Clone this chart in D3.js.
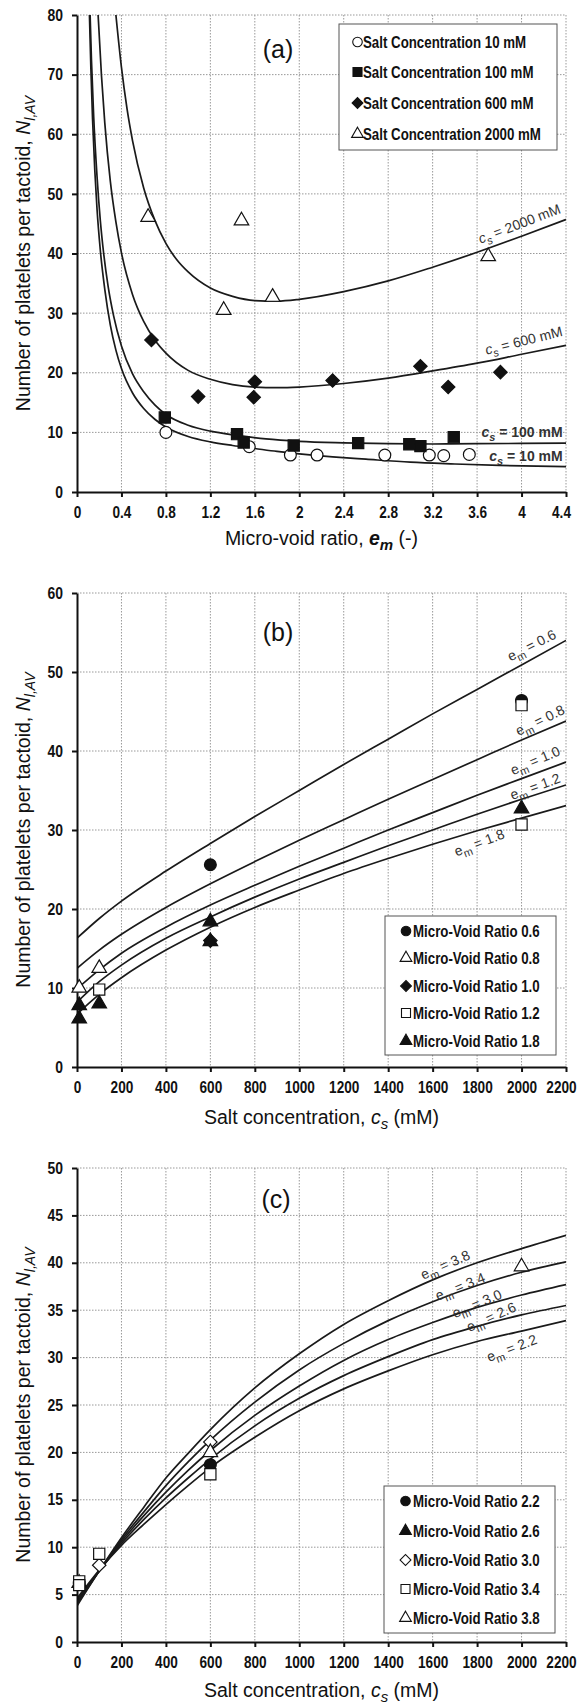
<!DOCTYPE html>
<html>
<head>
<meta charset="utf-8">
<script src="https://cdn.jsdelivr.net/npm/d3@7"></script>
<style>
body { margin: 0; background: #fff; }
svg { display: block; }
.axis path, .axis line { stroke: #111; stroke-width: 2; }
.axis text { font-family: 'Liberation Sans', Arial, sans-serif; font-weight: bold; font-size: 16px; fill: #111; }
.grid { stroke: #999; stroke-width: 1; stroke-dasharray: 1.5 1.5; }
.fit { fill: none; stroke: #1a1a1a; stroke-width: 1.7; }
.title { font-family: 'Liberation Sans', Arial, sans-serif; font-size: 19.5px; fill: #111; }
.plabel { font-family: 'Liberation Sans', Arial, sans-serif; font-size: 25px; fill: #111; }
.legend text { font-family: 'Liberation Sans', Arial, sans-serif; font-weight: bold; font-size: 16px; fill: #111; }
.clabel { font-family: 'Liberation Sans', Arial, sans-serif; font-size: 14px; fill: #333; }
</style>
</head>
<body>
<svg id="chart" width="582" height="1704"></svg>
<script>
// ---------- panel (a): N vs micro-void ratio ----------
let emTicksA = [0, 0.4, 0.8, 1.2, 1.6, 2, 2.4, 2.8, 3.2, 3.6, 4, 4.4]
let emLabelsA = ['0', '0.4', '0.8', '1.2', '1.6', '2', '2.4', '2.8', '3.2', '3.6', '4', '4.4']
let nTicksA = [0, 10, 20, 30, 40, 50, 60, 70, 80]
let saltNames = ['Salt Concentration 10 mM', 'Salt Concentration 100 mM', 'Salt Concentration 600 mM', 'Salt Concentration 2000 mM']

let obs10mM = [[0.8, 10.0], [1.55, 7.6], [1.92, 6.2], [2.16, 6.2], [2.77, 6.2], [3.17, 6.2], [3.3, 6.1], [3.53, 6.3]]
let obs100mM = [[0.79, 12.5], [1.44, 9.7], [1.5, 8.3], [1.95, 7.8], [2.53, 8.2], [2.99, 8.0], [3.09, 7.7], [3.39, 9.2]]
let obs600mM = [[0.67, 25.5], [1.09, 16.0], [1.6, 18.5], [1.59, 15.9], [2.3, 18.7], [3.09, 21.1], [3.34, 17.6], [3.81, 20.1]]
let obs2000mM = [[0.64, 46.1], [1.48, 45.5], [1.32, 30.5], [1.76, 32.7], [3.7, 39.5]]

let fit10mM = [[0.112, 80], [0.125, 71], [0.14, 62.5], [0.16, 54], [0.18, 47.5], [0.21, 40.5], [0.25, 34], [0.3, 28], [0.35, 23.8], [0.4, 20.7], [0.5, 16.6], [0.6, 14.0], [0.7, 12.2], [0.8, 10.9], [1.0, 9.3], [1.2, 8.4], [1.4, 7.8], [1.6, 7.3], [1.8, 6.8], [2.0, 6.4], [2.3, 5.9], [2.6, 5.5], [3.0, 5.0], [3.4, 4.7], [3.8, 4.45], [4.4, 4.25]]
let fit100mM = [[0.118, 80], [0.13, 72.5], [0.15, 63], [0.18, 53], [0.21, 45.5], [0.24, 40], [0.28, 34.5], [0.33, 29.5], [0.4, 24.5], [0.5, 19.8], [0.6, 16.8], [0.7, 14.6], [0.8, 13.0], [1.0, 11.2], [1.2, 10.2], [1.44, 9.5], [1.7, 8.9], [2.0, 8.5], [2.4, 8.25], [2.8, 8.1], [3.2, 8.05], [3.6, 8.1], [4.0, 8.15], [4.4, 8.2]]
let fit600mM = [[0.19, 80], [0.22, 69.9], [0.25, 61.9], [0.3, 52.1], [0.35, 45.3], [0.4, 40.1], [0.5, 33.1], [0.6, 28.6], [0.7, 25.5], [0.8, 23.3], [1.0, 20.4], [1.2, 18.9], [1.4, 18.0], [1.6, 17.6], [1.8, 17.5], [2.0, 17.6], [2.4, 18.2], [2.8, 19.1], [3.2, 20.3], [3.6, 21.6], [4.0, 23.1], [4.4, 24.6]]
let fit2000mM = [[0.35, 80], [0.4, 71.2], [0.45, 64.3], [0.5, 58.9], [0.6, 51.0], [0.7, 45.6], [0.8, 41.7], [0.9, 38.9], [1.0, 36.9], [1.2, 34.2], [1.4, 32.8], [1.6, 32.1], [1.8, 32.0], [2.0, 32.3], [2.4, 33.6], [2.8, 35.4], [3.2, 37.7], [3.6, 40.2], [4.0, 42.9], [4.4, 45.7]]

// ---------- panels (b) and (c): N vs salt concentration ----------
let csTicks = [0, 200, 400, 600, 800, 1000, 1200, 1400, 1600, 1800, 2000, 2200]
let csLabels = ['0', '200', '400', '600', '800', '1000', '1200', '1400', '1600', '1800', '2000', '2200']
let nTicksB = [0, 10, 20, 30, 40, 50, 60]
let nTicksC = [0, 5, 10, 15, 20, 25, 30, 35, 40, 45, 50]

let ratioNamesB = ['Micro-Void Ratio 0.6', 'Micro-Void Ratio 0.8', 'Micro-Void Ratio 1.0', 'Micro-Void Ratio 1.2', 'Micro-Void Ratio 1.8']
let obsEm06 = [[600, 25.6], [2000, 46.4]]
let obsEm08 = [[10, 10.0], [100, 12.5]]
let obsEm10 = [[600, 16.0]]
let obsEm12 = [[100, 9.8], [2000, 45.8], [2000, 30.7]]
let obsEm18 = [[10, 6.1], [10, 7.8], [100, 8.0], [600, 18.4], [600, 15.9], [2000, 32.7]]

let fitEm06 = [[0, 16.3], [100, 18.8], [200, 21.0], [400, 24.8], [600, 28.3], [800, 31.7], [1000, 35.0], [1200, 38.3], [1400, 41.5], [1600, 44.7], [1800, 47.8], [2000, 50.9], [2200, 54.0]]
let fitEm08 = [[0, 12.5], [100, 14.8], [200, 16.8], [400, 20.2], [600, 23.2], [800, 26.0], [1000, 28.7], [1200, 31.3], [1400, 33.9], [1600, 36.4], [1800, 38.9], [2000, 41.4], [2200, 43.8]]
let fitEm10 = [[0, 9.9], [100, 12.3], [200, 14.4], [400, 17.7], [600, 20.5], [800, 23.0], [1000, 25.4], [1200, 27.7], [1400, 30.0], [1600, 32.2], [1800, 34.4], [2000, 36.5], [2200, 38.6]]
let fitEm12 = [[0, 8.2], [100, 10.8], [200, 12.9], [400, 16.3], [600, 19.0], [800, 21.5], [1000, 23.8], [1200, 25.9], [1400, 28.0], [1600, 30.0], [1800, 32.0], [2000, 33.9], [2200, 35.7]]
let fitEm18 = [[0, 6.7], [100, 9.2], [200, 11.3], [400, 14.8], [600, 17.7], [800, 20.2], [1000, 22.4], [1200, 24.5], [1400, 26.4], [1600, 28.2], [1800, 29.9], [2000, 31.5], [2200, 33.1]]

let ratioNamesC = ['Micro-Void Ratio 2.2', 'Micro-Void Ratio 2.6', 'Micro-Void Ratio 3.0', 'Micro-Void Ratio 3.4', 'Micro-Void Ratio 3.8']
let obsEm22 = [[10, 6.2], [600, 18.7]]
let obsEm26 = [[10, 6.2]]
let obsEm30 = [[100, 8.1], [600, 21.1]]
let obsEm34 = [[10, 6.4], [10, 6.0], [100, 9.3], [600, 17.7]]
let obsEm38 = [[600, 20.0], [2000, 39.6]]

let fitEm22 = [[0, 4.6], [100, 7.6], [200, 10.2], [300, 12.4], [400, 14.5], [500, 16.5], [600, 18.4], [800, 21.6], [1000, 24.4], [1200, 26.7], [1400, 28.6], [1600, 30.3], [1800, 31.7], [2000, 32.8], [2200, 33.9]]
let fitEm26 = [[0, 4.4], [100, 7.5], [200, 10.4], [300, 12.9], [400, 15.2], [500, 17.3], [600, 19.3], [800, 22.8], [1000, 25.7], [1200, 28.1], [1400, 30.1], [1600, 31.9], [1800, 33.3], [2000, 34.5], [2200, 35.5]]
let fitEm30 = [[0, 4.2], [100, 7.5], [200, 10.6], [300, 13.3], [400, 15.8], [500, 18.1], [600, 20.2], [800, 23.9], [1000, 27.0], [1200, 29.7], [1400, 31.9], [1600, 33.7], [1800, 35.3], [2000, 36.6], [2200, 37.7]]
let fitEm34 = [[0, 4.0], [100, 7.5], [200, 10.8], [300, 13.7], [400, 16.5], [500, 19.0], [600, 21.3], [800, 25.3], [1000, 28.7], [1200, 31.5], [1400, 33.9], [1600, 35.9], [1800, 37.6], [2000, 39.0], [2200, 40.1]]
let fitEm38 = [[0, 3.8], [100, 7.5], [200, 11.0], [300, 14.2], [400, 17.3], [500, 19.9], [600, 22.4], [800, 26.8], [1000, 30.4], [1200, 33.5], [1400, 36.0], [1600, 38.2], [1800, 40.0], [2000, 41.5], [2200, 42.9]]


let svg = d3.select('#chart')
let plotLeft = 77
let plotRight = 566

// marker styles: symbol type + filled or open
let markers = {
    circle: { type: d3.symbolCircle, size: 110, rot: 0 },
    square: { type: d3.symbolSquare, size: 125, rot: 0 },
    diamond: { type: d3.symbolSquare, size: 90, rot: 45 },
    triangle: { type: d3.symbolTriangle, size: 92, rot: 0 }
}

// squeeze a text horizontally (the original uses a narrow bold face)
let condense = (sel, k) => {
    sel.each(function () {
        let w = this.getComputedTextLength()
        d3.select(this).attr('textLength', w * k).attr('lengthAdjust', 'spacingAndGlyphs')
    })
}

// text with italic / subscript pieces
let richText = (sel, parts, subSize) => {
    parts.forEach((p) => {
        let t = sel.append('tspan').text(p.t)
        if (p.i) t.attr('font-style', 'italic')
        if (p.b) t.attr('font-weight', 'bold')
        if (p.sub) t.attr('dy', p.sub).attr('font-size', subSize)
        if (p.back) t.attr('dy', -p.back)
    })
}

let drawPanel = (p) => {
    let x = d3.scaleLinear().domain([p.xTicks[0], p.xTicks[p.xTicks.length - 1]]).range([plotLeft, plotRight])
    let y = d3.scaleLinear().domain([p.yTicks[0], p.yTicks[p.yTicks.length - 1]]).range([p.bottom, p.top])
    let g = svg.append('g')

    g.append('clipPath').attr('id', 'clip-' + p.id)
        .append('rect')
        .attr('x', plotLeft).attr('y', p.top)
        .attr('width', plotRight - plotLeft).attr('height', p.bottom - p.top)

    // dotted grid
    g.append('g').selectAll('line')
        .data(p.xTicks.slice(1))
        .enter()
        .append('line')
        .attr('class', 'grid')
        .attr('x1', (d) => x(d)).attr('x2', (d) => x(d))
        .attr('y1', p.top).attr('y2', p.bottom)
    g.append('g').selectAll('line')
        .data(p.yTicks.slice(1))
        .enter()
        .append('line')
        .attr('class', 'grid')
        .attr('x1', plotLeft).attr('x2', plotRight)
        .attr('y1', (d) => y(d)).attr('y2', (d) => y(d))

    // fitted curves
    let line = d3.line()
        .x((d) => x(d[0]))
        .y((d) => y(d[1]))
        .curve(d3.curveMonotoneX)
    g.append('g')
        .attr('clip-path', 'url(#clip-' + p.id + ')')
        .selectAll('path')
        .data(p.fits)
        .enter()
        .append('path')
        .attr('class', 'fit')
        .attr('d', line)

    // axes
    let xa = g.append('g')
        .attr('class', 'axis')
        .attr('transform', 'translate(0,' + p.bottom + ')')
        .call(d3.axisBottom(x).tickValues(p.xTicks).tickFormat((d, i) => p.xLabels[i])
            .tickSizeInner(5).tickSizeOuter(0).tickPadding(10))
    let ya = g.append('g')
        .attr('class', 'axis')
        .attr('transform', 'translate(' + plotLeft + ',0)')
        .call(d3.axisLeft(y).tickValues(p.yTicks).tickFormat(d3.format('d'))
            .tickSizeInner(5).tickSizeOuter(0).tickPadding(9))
    condense(xa.selectAll('text'), 0.85)
    condense(ya.selectAll('text'), 0.87)
    // keep the last label inside the page edge
    xa.selectAll('.tick:last-of-type text').attr('dx', -5)

    // measured points
    p.series.forEach((s) => {
        let m = markers[s.marker]
        g.append('g').selectAll('path')
            .data(s.data)
            .enter()
            .append('path')
            .attr('d', d3.symbol().type(m.type).size(m.size))
            .attr('transform', (d) => 'translate(' + x(d[0]) + ',' + y(d[1]) + ') rotate(' + m.rot + ')')
            .attr('fill', s.filled ? '#111' : '#fff')
            .attr('stroke', '#111')
            .attr('stroke-width', 1.2)
    })

    // curve labels
    p.curveLabels.forEach((c) => {
        let t = g.append('text')
            .attr('class', 'clabel')
            .attr('text-anchor', c.anchor || 'middle')
            .attr('font-weight', c.bold ? 'bold' : null)
            .attr('transform', 'translate(' + x(c.at[0]) + ',' + y(c.at[1]) + ') rotate(' + c.angle + ')')
            .attr('dy', '0.35em')
        richText(t, c.parts, '11px')
    })

    // panel label
    g.append('text')
        .attr('class', 'plabel')
        .attr('x', p.tag[0]).attr('y', p.tag[1])
        .attr('text-anchor', 'middle')
        .attr('dy', '0.35em')
        .text(p.tag[2])

    // legend
    let lg = g.append('g').attr('class', 'legend')
    lg.append('rect')
        .attr('x', p.legend.x0).attr('y', p.legend.y0)
        .attr('width', p.legend.x1 - p.legend.x0).attr('height', p.legend.y1 - p.legend.y0)
        .attr('fill', '#fff').attr('stroke', '#555').attr('stroke-width', 1)
    p.series.forEach((s, i) => {
        let m = markers[s.marker]
        let yy = p.legend.rows[i]
        lg.append('path')
            .attr('d', d3.symbol().type(m.type).size(m.size * 0.65))
            .attr('transform', 'translate(' + p.legend.sx + ',' + yy + ') rotate(' + m.rot + ')')
            .attr('fill', s.filled ? '#111' : '#fff')
            .attr('stroke', '#111')
            .attr('stroke-width', 1.1)
        lg.append('text')
            .attr('x', p.legend.tx).attr('y', yy)
            .attr('dy', '0.36em')
            .text(s.name)
    })
    condense(lg.selectAll('text'), 0.83)

    // axis titles
    let xt = g.append('text')
        .attr('class', 'title')
        .attr('x', (plotLeft + plotRight) / 2).attr('y', p.xTitleY)
        .attr('text-anchor', 'middle')
    richText(xt, p.xTitle, '15px')

    let yt = g.append('text')
        .attr('class', 'title')
        .attr('transform', 'translate(23,' + ((p.top + p.bottom) / 2) + ') rotate(-90)')
        .attr('text-anchor', 'middle')
        .attr('dy', '0.35em')
    richText(yt, [
        { t: 'Number of platelets per tactoid, ' },
        { t: 'N', i: true },
        { t: 'l,AV', i: true, sub: 5 }
    ], '14px')
}

let cs = (v) => [{ t: 'c', i: true }, { t: 's', i: true, sub: 4 }, { t: ' = ' + v, back: 4 }]
let em = (v) => [{ t: 'e' }, { t: 'm', sub: 4 }, { t: ' = ' + v, back: 4 }]
let csTitle = [{ t: 'Salt concentration, ' }, { t: 'c', i: true }, { t: 's', i: true, sub: 5 }, { t: ' (mM)', back: 5 }]

drawPanel({
    id: 'a', top: 15, bottom: 492,
    xTicks: emTicksA, xLabels: emLabelsA, yTicks: nTicksA,
    fits: [fit10mM, fit100mM, fit600mM, fit2000mM],
    series: [
        { name: saltNames[0], data: obs10mM, marker: 'circle', filled: false },
        { name: saltNames[1], data: obs100mM, marker: 'square', filled: true },
        { name: saltNames[2], data: obs600mM, marker: 'diamond', filled: true },
        { name: saltNames[3], data: obs2000mM, marker: 'triangle', filled: false }
    ],
    curveLabels: [
        { parts: cs('2000 mM'), at: [3.98, 45.0], angle: -21 },
        { parts: cs('600 mM'), at: [4.02, 25.4], angle: -14 },
        { parts: cs('100 mM'), at: [4.37, 10.1], angle: 0, anchor: 'end', bold: true },
        { parts: cs('10 mM'), at: [4.37, 6.0], angle: 0, anchor: 'end', bold: true }
    ],
    tag: [278, 49, '(a)'],
    legend: { x0: 339, x1: 557, y0: 24, y1: 150, sx: 357.5, tx: 363, rows: [42, 72, 103, 134] },
    xTitleY: 545,
    xTitle: [{ t: 'Micro-void ratio, ' }, { t: 'e', i: true, b: true }, { t: 'm', i: true, b: true, sub: 5 }, { t: ' (-)', back: 5 }]
})

drawPanel({
    id: 'b', top: 593, bottom: 1067,
    xTicks: csTicks, xLabels: csLabels, yTicks: nTicksB,
    fits: [fitEm06, fitEm08, fitEm10, fitEm12, fitEm18],
    series: [
        { name: ratioNamesB[0], data: obsEm06, marker: 'circle', filled: true },
        { name: ratioNamesB[1], data: obsEm08, marker: 'triangle', filled: false },
        { name: ratioNamesB[2], data: obsEm10, marker: 'diamond', filled: true },
        { name: ratioNamesB[3], data: obsEm12, marker: 'square', filled: false },
        { name: ratioNamesB[4], data: obsEm18, marker: 'triangle', filled: true }
    ],
    curveLabels: [
        { parts: em('0.6'), at: [2045, 53.4], angle: -27 },
        { parts: em('0.8'), at: [2083, 43.9], angle: -26 },
        { parts: em('1.0'), at: [2061, 38.8], angle: -23 },
        { parts: em('1.2'), at: [2061, 35.5], angle: -20 },
        { parts: em('1.8'), at: [1810, 28.4], angle: -21 }
    ],
    tag: [278, 632, '(b)'],
    legend: { x0: 385, x1: 556, y0: 916, y1: 1055, sx: 406, tx: 413, rows: [931, 958, 986, 1013, 1041] },
    xTitleY: 1124,
    xTitle: csTitle
})

drawPanel({
    id: 'c', top: 1168, bottom: 1642,
    xTicks: csTicks, xLabels: csLabels, yTicks: nTicksC,
    fits: [fitEm22, fitEm26, fitEm30, fitEm34, fitEm38],
    series: [
        { name: ratioNamesC[0], data: obsEm22, marker: 'circle', filled: true },
        { name: ratioNamesC[1], data: obsEm26, marker: 'triangle', filled: true },
        { name: ratioNamesC[2], data: obsEm30, marker: 'diamond', filled: false },
        { name: ratioNamesC[3], data: obsEm34, marker: 'square', filled: false },
        { name: ratioNamesC[4], data: obsEm38, marker: 'triangle', filled: false }
    ],
    curveLabels: [
        { parts: em('3.8'), at: [1656, 39.8], angle: -24 },
        { parts: em('3.4'), at: [1724, 37.5], angle: -22 },
        { parts: em('3.0'), at: [1799, 35.7], angle: -23 },
        { parts: em('2.6'), at: [1863, 34.3], angle: -24 },
        { parts: em('2.2'), at: [1956, 31.0], angle: -21 }
    ],
    tag: [276, 1199, '(c)'],
    legend: { x0: 384, x1: 555, y0: 1486, y1: 1633, sx: 405.5, tx: 413, rows: [1501, 1531, 1560, 1589, 1618] },
    xTitleY: 1697,
    xTitle: csTitle
})
</script>
</body>
</html>
